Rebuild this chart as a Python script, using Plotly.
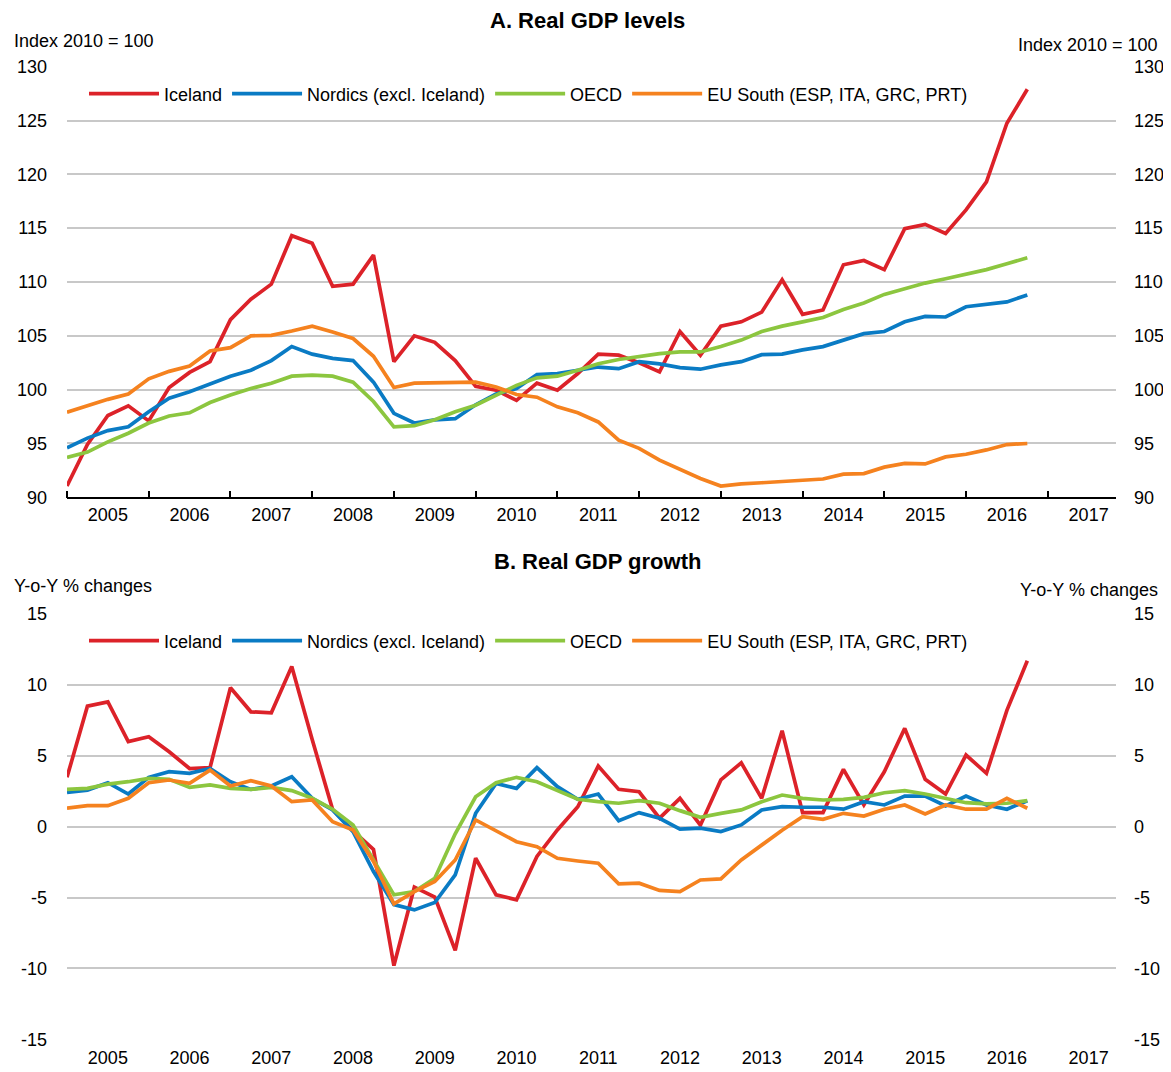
import plotly.graph_objects as go

quarters = [f"{y}Q{q}" for y in range(2005, 2017) for q in range(1, 5)]
year_labels = [str(y) for y in range(2005, 2018)]
series_names = ["Iceland", "Nordics (excl. Iceland)", "OECD", "EU South (ESP, ITA, GRC, PRT)"]
series_colors = ["#DC2229", "#0A7BC4", "#8CC63F", "#F5821F"]
level_ticks = [90, 95, 100, 105, 110, 115, 120, 125, 130]
growth_ticks = [-15, -10, -5, 0, 5, 10, 15]
growth_ticktext = ["-15", "-10", "-5", "0", "5", "10", "15"]

iceland_level = [91.05, 94.9, 97.6, 98.5, 97.1, 100.2, 101.6, 102.6, 106.5, 108.4,
                 109.8, 114.3, 113.6, 109.6, 109.8, 112.5, 102.6, 105.0, 104.4, 102.7,
                 100.3, 99.95, 99.0, 100.6, 99.95, 101.5, 103.3, 103.2, 102.5, 101.65,
                 105.4, 103.2, 105.9, 106.3, 107.2, 110.2, 107.0, 107.4, 111.6, 112.0,
                 111.15, 114.95, 115.35, 114.5, 116.7, 119.3, 124.75, 127.9]
nordics_level = [94.6, 95.5, 96.2, 96.55, 97.95, 99.2, 99.8, 100.5, 101.25, 101.8,
                 102.7, 104.0, 103.3, 102.9, 102.7, 100.7, 97.8, 96.9, 97.2, 97.3,
                 98.6, 99.6, 100.1, 101.4, 101.5, 101.8, 102.1, 101.95, 102.6, 102.4,
                 102.05, 101.9, 102.3, 102.6, 103.25, 103.3, 103.7, 104.0, 104.6, 105.2,
                 105.4, 106.3, 106.8, 106.75, 107.7, 107.9, 108.15, 108.8]
oecd_level = [93.7, 94.2, 95.15, 95.95, 96.9, 97.55, 97.85, 98.8, 99.5, 100.1,
              100.6, 101.25, 101.35, 101.25, 100.7, 98.9, 96.55, 96.65, 97.2, 97.95,
              98.55, 99.5, 100.4, 101.1, 101.25, 101.8, 102.4, 102.8, 103.1, 103.35,
              103.5, 103.5, 104.0, 104.6, 105.4, 105.9, 106.3, 106.7, 107.45, 108.05,
              108.85, 109.4, 109.9, 110.3, 110.7, 111.15, 111.7, 112.25]
eusouth_level = [97.9, 98.5, 99.1, 99.6, 101.0, 101.7, 102.2, 103.6, 103.9, 105.0,
                 105.05, 105.45, 105.9, 105.35, 104.75, 103.1, 100.2, 100.6, 100.65, 100.7,
                 100.7, 100.25, 99.55, 99.3, 98.4, 97.85, 97.0, 95.3, 94.55, 93.45,
                 92.6, 91.75, 91.05, 91.25, 91.35, 91.45, 91.6, 91.7, 92.15, 92.2,
                 92.8, 93.15, 93.1, 93.75, 94.0, 94.4, 94.9, 95.0]

iceland_growth = [3.48, 8.5, 8.8, 6.0, 6.34, 5.28, 4.1, 4.16, 9.8, 8.1,
                  8.03, 11.3, 6.15, 1.2, -0.3, -1.6, -9.8, -4.27, -4.97, -8.73,
                  -2.23, -4.81, -5.16, -2.1, -0.23, 1.4, 4.27, 2.63, 2.46, 0.6,
                  2.0, 0.1, 3.3, 4.5, 2.0, 6.76, 0.99, 0.99, 4.04, 1.53,
                  3.87, 6.93, 3.34, 2.3, 5.05, 3.76, 8.2, 11.7]
nordics_growth = [2.42, 2.58, 3.1, 2.3, 3.48, 3.88, 3.76, 4.11, 3.17, 2.63,
                  2.87, 3.52, 2.0, 1.18, -0.35, -3.17, -5.5, -5.87, -5.35, -3.4,
                  0.94, 3.05, 2.7, 4.16, 2.82, 1.93, 2.3, 0.42, 0.99, 0.59,
                  -0.18, -0.11, -0.35, 0.12, 1.18, 1.41, 1.37, 1.37, 1.23, 1.76,
                  1.53, 2.16, 2.16, 1.46, 2.16, 1.53, 1.23, 1.83]
oecd_growth = [2.63, 2.7, 3.0, 3.17, 3.41, 3.34, 2.77, 2.94, 2.7, 2.63,
               2.77, 2.54, 2.0, 1.23, 0.12, -2.35, -4.81, -4.58, -3.64, -0.5,
               2.11, 3.1, 3.48, 3.17, 2.58, 1.93, 1.76, 1.65, 1.83, 1.65,
               1.13, 0.66, 0.94, 1.18, 1.76, 2.23, 2.0, 1.88, 1.93, 2.07,
               2.39, 2.54, 2.3, 2.0, 1.69, 1.6, 1.65, 1.83]
eusouth_growth = [1.3, 1.48, 1.48, 2.0, 3.1, 3.29, 3.06, 3.99, 2.87, 3.24,
                  2.87, 1.76, 1.88, 0.35, -0.23, -2.46, -5.44, -4.58, -3.87, -2.35,
                  0.47, -0.3, -1.06, -1.41, -2.23, -2.42, -2.58, -4.04, -3.99, -4.5,
                  -4.58, -3.76, -3.68, -2.35, -1.29, -0.25, 0.7, 0.52, 0.94, 0.75,
                  1.23, 1.53, 0.89, 1.53, 1.23, 1.23, 2.0, 1.3]


def qpos(q):
    return int(q[:4]) + (int(q[-1]) - 1) / 4.0


x = [qpos(q) for q in quarters]
year_centers = [int(y) + 0.5 for y in year_labels]
year_bounds = [int(y) for y in year_labels]

FONT = "Liberation Sans, Arial, sans-serif"
FS = 18
OFF = 8  # page body margin
W, H = 1171 - OFF, 1072 - OFF
L = 67 - OFF
R = 1171 - 1116
PW = W - L - R


def fx(v):  # page x -> paper x
    return (v - OFF - L) / PW


def fy(v):  # page y -> paper y
    return 1 - (v - OFF) / H


domA = [fy(497.3), fy(66.7)]
domB = [fy(1039.3), fy(614)]
XR = [2005, 2017.835]

fig = go.Figure()
levels = [iceland_level, nordics_level, oecd_level, eusouth_level]
growths = [iceland_growth, nordics_growth, oecd_growth, eusouth_growth]
n = len(series_names)
# the last series is bound to the right-hand axis (same range) so that axis is drawn
for i, (name, col, lv) in enumerate(zip(series_names, series_colors, levels)):
    fig.add_trace(go.Scatter(x=x, y=lv, mode="lines", name=name,
                             line=dict(color=col, width=3.7), xaxis="x",
                             yaxis="y3" if i == n - 1 else "y", legend="legend"))
for i, (name, col, gv) in enumerate(zip(series_names, series_colors, growths)):
    fig.add_trace(go.Scatter(x=x, y=gv, mode="lines", name=name,
                             line=dict(color=col, width=3.7), xaxis="x2",
                             yaxis="y4" if i == n - 1 else "y2", legend="legend2"))

tickfont = dict(family=FONT, size=FS, color="#000000")
grid = dict(showgrid=True, gridcolor="#C8C8C8", gridwidth=1.6, zeroline=False,
            showline=False, ticks="", tickfont=tickfont)
minor_ticks = dict(tickmode="array", tickvals=year_bounds, ticks="inside",
                   ticklen=7, tickwidth=1.6, tickcolor="#000000", showgrid=False)

fig.update_layout(
    width=W, height=H,
    margin=dict(l=L, r=R, t=0, b=0, autoexpand=False),
    paper_bgcolor="white", plot_bgcolor="white",
    font=dict(family=FONT, size=FS, color="#000000"),
    showlegend=True,
    xaxis=dict(domain=[0, 1], anchor="y", range=XR, tickmode="array",
               tickvals=year_centers, ticktext=year_labels, ticks="",
               showgrid=False, zeroline=False, showline=True, linecolor="#000000",
               linewidth=1.6, tickfont=tickfont, minor=minor_ticks),
    yaxis=dict(domain=domA, range=[90, 130], tickmode="array", tickvals=level_ticks,
               anchor="x", ticklabelstandoff=19, **grid),
    yaxis3=dict(domain=domA, range=[90, 130], tickmode="array", tickvals=level_ticks,
                anchor="x", overlaying="y", side="right", showgrid=False,
                zeroline=False, showline=False, ticks="", tickfont=tickfont,
                ticklabelstandoff=17),
    xaxis2=dict(domain=[0, 1], anchor="y2", range=XR, tickmode="array",
                tickvals=year_centers, ticktext=year_labels, ticks="",
                showgrid=False, zeroline=False, showline=False, tickfont=tickfont,
                ticklabelstandoff=6),
    xaxis4=dict(domain=[0, 1], anchor="free", overlaying="x2",
                position=(domB[0] + domB[1]) / 2, range=XR, showticklabels=False,
                tickmode="array", tickvals=[], ticks="", showgrid=False, zeroline=False,
                showline=True, linecolor="#000000", linewidth=1.6, minor=minor_ticks),
    yaxis2=dict(domain=domB, range=[-15, 15], tickmode="array", tickvals=growth_ticks,
                ticktext=growth_ticktext, anchor="x2", ticklabelstandoff=19, **grid),
    yaxis4=dict(domain=domB, range=[-15, 15], tickmode="array", tickvals=growth_ticks,
                ticktext=growth_ticktext, anchor="x2", overlaying="y2", side="right",
                showgrid=False, zeroline=False, showline=False, ticks="",
                tickfont=tickfont, ticklabelstandoff=17),
    legend=dict(orientation="h", x=fx(84), xanchor="left", itemwidth=70,
                y=fy(94), yanchor="middle", font=dict(family=FONT, size=FS),
                bgcolor="rgba(0,0,0,0)", traceorder="normal"),
    legend2=dict(orientation="h", x=fx(84), xanchor="left", itemwidth=70,
                 y=fy(641), yanchor="middle", font=dict(family=FONT, size=FS),
                 bgcolor="rgba(0,0,0,0)", traceorder="normal"),
)

annots = [
    dict(text="<b>A. Real GDP levels</b>", x=fx(587), y=fy(20.5),
         xanchor="center", font=dict(family=FONT, size=22)),
    dict(text="<b>B. Real GDP growth</b>", x=fx(597.5), y=fy(561.5),
         xanchor="center", font=dict(family=FONT, size=22)),
    dict(text="Index 2010 = 100", x=fx(12), y=fy(41), xanchor="left"),
    dict(text="Index 2010 = 100", x=fx(1160), y=fy(45), xanchor="right"),
    dict(text="Y-o-Y % changes", x=fx(12), y=fy(586), xanchor="left"),
    dict(text="Y-o-Y % changes", x=fx(1160), y=fy(590), xanchor="right"),
]
for a in annots:
    a.setdefault("font", dict(family=FONT, size=FS))
    fig.add_annotation(xref="paper", yref="paper", yanchor="middle",
                       showarrow=False, **a)

fig.write_html("out.html")
